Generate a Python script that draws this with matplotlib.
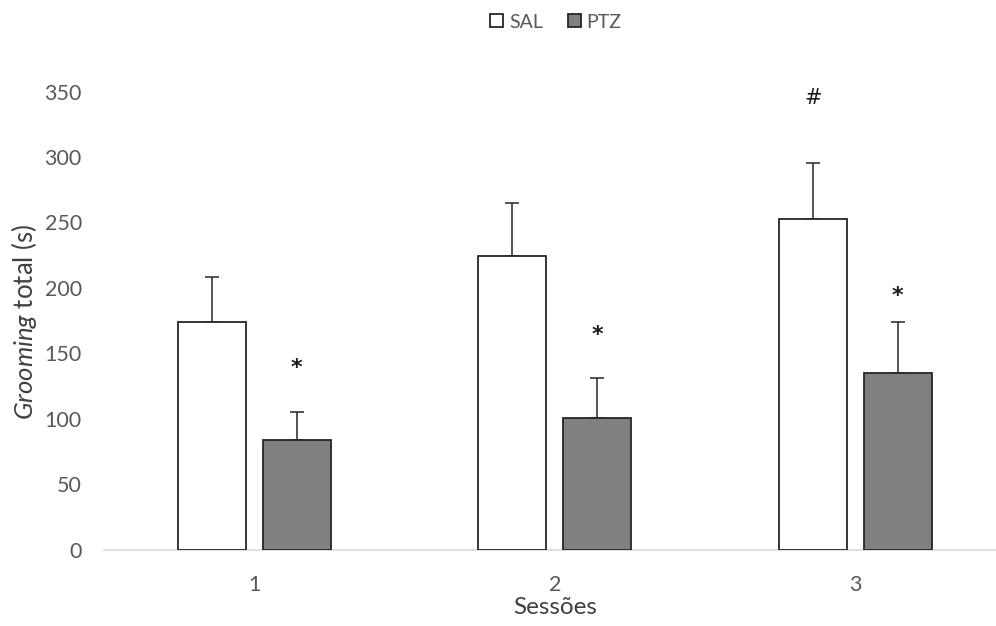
import matplotlib
matplotlib.use("Agg")
import matplotlib.pyplot as plt
import numpy as np

plt.rcParams['font.family'] = ['Lato', 'DejaVu Sans']
plt.rcParams['mathtext.fontset'] = 'custom'
plt.rcParams['mathtext.rm'] = 'Lato'
plt.rcParams['mathtext.it'] = 'Lato:italic'

sessions = ["1", "2", "3"]
sal_mean = [174.1, 224.3, 252.3]
sal_sem = [34.4, 40.3, 42.8]
ptz_mean = [83.4, 100.5, 134.6]
ptz_sem = [21.9, 30.6, 39.5]
ptz_marks = ["*", "*", "*"]
ptz_mark_y = [139, 164, 194]
sal_marks = ["", "", "#"]
sal_mark_y = [0, 0, 345]

fig = plt.figure(figsize=(9.96, 6.26), dpi=100)
ax = fig.add_axes([0.1044, 0.1222, 0.9051, 0.7316])

x = np.arange(1, len(sessions) + 1)
width = 0.2276
offset = 0.1414

ax.bar(x - offset, sal_mean, width, color="white", edgecolor="#262626",
       linewidth=1.3, label="SAL", zorder=3)
ax.bar(x + offset, ptz_mean, width, color="#808080", edgecolor="#262626",
       linewidth=1.3, label="PTZ", zorder=3)

ax.errorbar(x - offset, sal_mean, yerr=[np.zeros(3), sal_sem], fmt="none",
            ecolor="#262626", elinewidth=1.1, capsize=5, capthick=1.1, zorder=2)
ax.errorbar(x + offset, ptz_mean, yerr=[np.zeros(3), ptz_sem], fmt="none",
            ecolor="#262626", elinewidth=1.1, capsize=5, capthick=1.1, zorder=2)

for xi, m, yv in zip(x + offset, ptz_marks, ptz_mark_y):
    if m:
        ax.text(xi, yv, m, ha="center", va="center", fontsize=16,
                fontweight="bold", color="#1a1a1a", family="DejaVu Sans")
for xi, m, yv in zip(x - offset, sal_marks, sal_mark_y):
    if m:
        ax.text(xi, yv, m, ha="center", va="center", fontsize=15,
                color="#1a1a1a", family="DejaVu Sans")

ax.set_xlim(0.5, 3.5)
ax.set_ylim(0, 350)
ax.set_yticks(np.arange(0, 351, 50))
ax.set_xticks(x)
ax.set_xticklabels(sessions)
ax.tick_params(axis="both", length=0, labelsize=15.5, labelcolor="#595959")
ax.tick_params(axis="y", pad=16)
ax.tick_params(axis="x", pad=18)

for side in ["top", "right", "left"]:
    ax.spines[side].set_visible(False)
ax.spines["bottom"].set_color("#d9d9d9")
ax.spines["bottom"].set_linewidth(1.2)

fig.text(555 / 996, 1 - 607 / 626, "Sessões", ha="center", va="center",
         fontsize=17.5, color="#404040")
fig.text(24 / 996, 1 - 322 / 626, r"$\it{Grooming}$ total (s)", rotation=90,
         ha="center", va="center", fontsize=18.5, color="#404040")

leg = fig.legend(loc="center", bbox_to_anchor=(556 / 996, 1 - 22 / 626), ncol=2,
                 frameon=False, fontsize=14, handlelength=0.65, handleheight=0.65,
                 handletextpad=0.3, columnspacing=1.3, labelcolor="#595959")

fig.savefig("out.png", dpi=100)
